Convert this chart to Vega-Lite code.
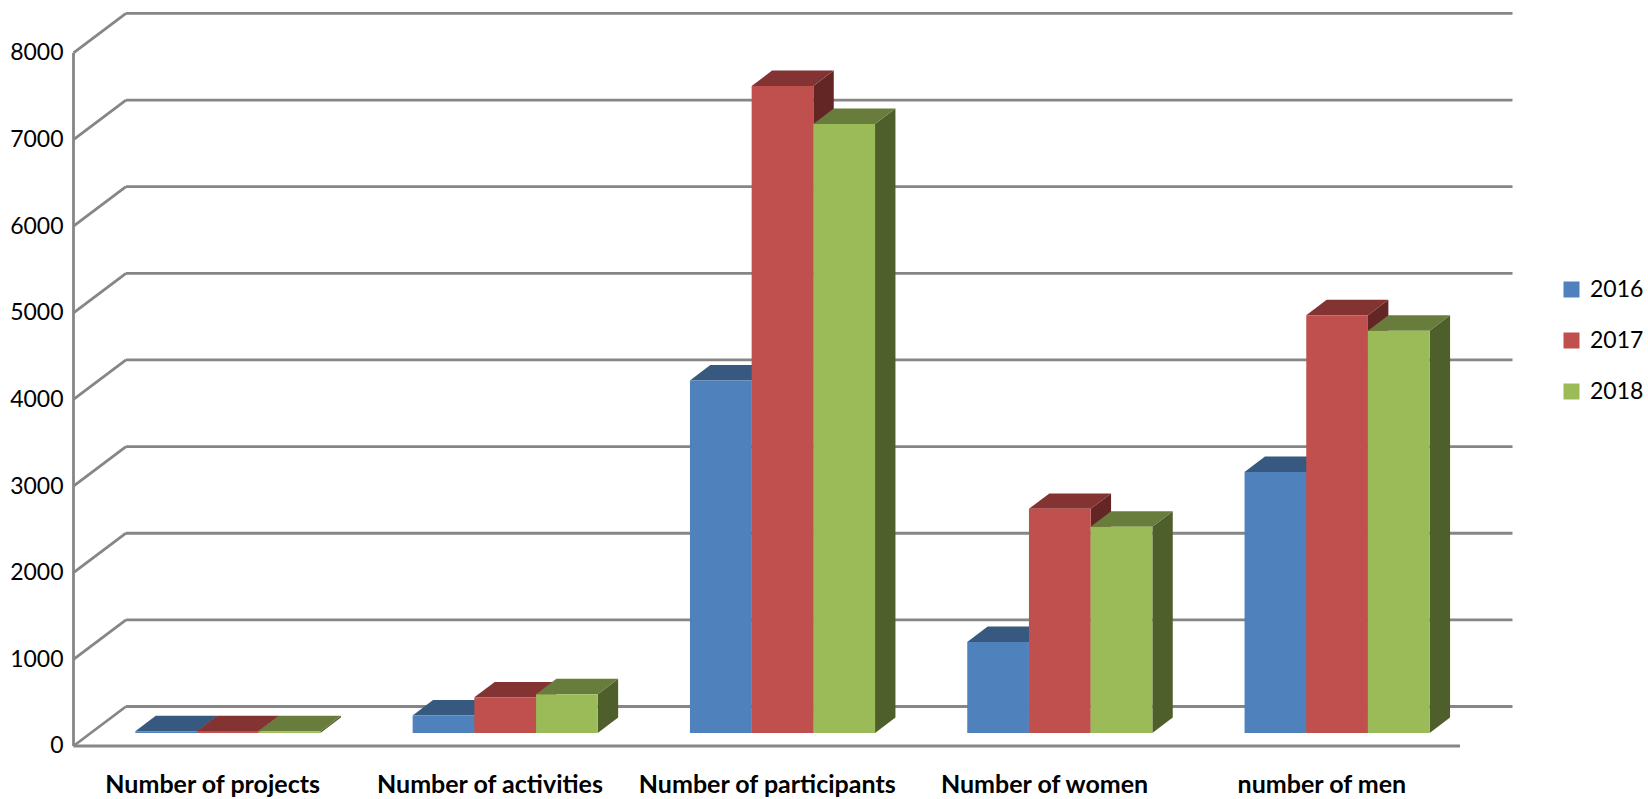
{
"$schema":"https://vega.github.io/schema/vega-lite/v6.json",
"width":1648,"height":799,"padding":0,"autosize":{"type":"none"},
"background":"white",
"config":{"view":{"stroke":null},"font":"Lato"},
"resolve":{"axis":{"x":"independent","y":"independent"}},
"datasets":{
"grid":[{"level":0},{"level":1000},{"level":2000},{"level":3000},{"level":4000},{"level":5000},{"level":6000},{"level":7000},{"level":8000}],
"bars":[
{"category":"Number of projects","year":"2016","value":20},
{"category":"Number of projects","year":"2017","value":22},
{"category":"Number of projects","year":"2018","value":20},
{"category":"Number of activities","year":"2016","value":203},
{"category":"Number of activities","year":"2017","value":412},
{"category":"Number of activities","year":"2018","value":447},
{"category":"Number of participants","year":"2016","value":4069},
{"category":"Number of participants","year":"2017","value":7469},
{"category":"Number of participants","year":"2018","value":7030},
{"category":"Number of women","year":"2016","value":1050},
{"category":"Number of women","year":"2017","value":2588},
{"category":"Number of women","year":"2018","value":2382},
{"category":"number of men","year":"2016","value":3013},
{"category":"number of men","year":"2017","value":4822},
{"category":"number of men","year":"2018","value":4644}
]},
"layer":[
{"data":{"name":"grid"},
 "transform":[{"calculate":"datum.level+456","as":"back"}],
 "resolve":{"axis":{"x":"independent","y":"independent"}},
 "layer":[
  {"mark":{"type":"rule","color":"#868686","strokeWidth":2.8},
   "encoding":{
    "x":{"datum":0.1893,"type":"quantitative","scale":{"domain":[-0.26506,5.6779],"nice":false,"zero":false},
      "axis":{"values":[0.5,1.5,2.5,3.5,4.5],"title":null,"grid":false,"ticks":false,"domain":false,"labelOverlap":false,"labelFlush":false,"labelLimit":400,"labelFont":"Lato","labelFontWeight":"bold","labelFontSize":25,"labelColor":"#000000","labelPadding":0,"offset":-27,
      "labelExpr":"['Number of projects','Number of activities','Number of participants','Number of women','number of men'][floor(datum.value)]"}},
    "x2":{"datum":5.1893},
    "y":{"field":"back","type":"quantitative","scale":{"domain":[-611.8,8611.3],"nice":false,"zero":false},
      "axis":{"values":[0,1000,2000,3000,4000,5000,6000,7000,8000],"format":"d","title":null,"grid":false,"ticks":false,"domain":false,"labelFont":"Lato","labelFontSize":23,"labelColor":"#000000","labelPadding":0,"offset":-63}}
   }},
  {"mark":{"type":"rule","color":"#868686","strokeWidth":2.8},
   "encoding":{
    "x":{"datum":0,"type":"quantitative","scale":{"domain":[-0.26506,5.6779],"nice":false,"zero":false},"axis":null},
    "x2":{"datum":0.1893},
    "y":{"field":"level","type":"quantitative","scale":{"domain":[-611.8,8611.3],"nice":false,"zero":false},"axis":null},
    "y2":{"field":"back"}
   }},
  {"transform":[{"filter":"datum.level==0"}],
   "mark":{"type":"rule","color":"#868686","strokeWidth":2.8},
   "encoding":{
    "x":{"datum":0,"type":"quantitative","scale":{"domain":[-0.26506,5.6779],"nice":false,"zero":false},"axis":null},
    "y":{"field":"level","type":"quantitative","scale":{"domain":[-611.8,8611.3],"nice":false,"zero":false},"axis":null},
    "y2":{"datum":8000}
   }},
  {"transform":[{"filter":"datum.level==0"}],
   "mark":{"type":"rule","color":"#868686","strokeWidth":2.8},
   "encoding":{
    "x":{"datum":0,"type":"quantitative","scale":{"domain":[-0.26506,5.6779],"nice":false,"zero":false},"axis":null},
    "x2":{"datum":5},
    "y":{"field":"level","type":"quantitative","scale":{"domain":[-611.8,8611.3],"nice":false,"zero":false},"axis":null}
   }}
 ]},
{"data":{"name":"bars"},
 "transform":[
  {"calculate":"indexof(['Number of projects','Number of activities','Number of participants','Number of women','number of men'],datum.category)","as":"ci"},
  {"calculate":"indexof(['2016','2017','2018'],datum.year)","as":"yi"},
  {"calculate":"datum.ci+0.223+datum.yi*0.2225","as":"x0"},
  {"calculate":"datum.x0+0.2225","as":"x1"},
  {"calculate":"datum.value+150","as":"top"},
  {"calculate":"150","as":"base"},
  {"calculate":"{'2016':'#37587F','2017':'#843333','2018':'#687C3B'}[datum.year]","as":"topColor"},
  {"calculate":"{'2016':'#2B4565','2017':'#632625','2018':'#4F5F2C'}[datum.year]","as":"sideColor"},
  {"calculate":"datum.category+datum.year","as":"key"}
 ],
 "resolve":{"axis":{"x":"independent","y":"independent"}},
 "layer":[
  {"transform":[{"calculate":"[0,1]","as":"t"},{"flatten":["t"]},
    {"calculate":"datum.x1+datum.t*0.0736","as":"sx"},
    {"calculate":"datum.top+datum.t*178","as":"sy"},
    {"calculate":"datum.base+datum.t*178","as":"sy2"}],
   "mark":{"type":"area","orient":"vertical"},
   "encoding":{
    "x":{"field":"sx","type":"quantitative","scale":{"domain":[-0.26506,5.6779],"nice":false,"zero":false},"axis":null},
    "y":{"field":"sy","type":"quantitative","stack":null,"scale":{"domain":[-611.8,8611.3],"nice":false,"zero":false},"axis":null},
    "y2":{"field":"sy2"},
    "detail":{"field":"key"},
    "color":{"field":"sideColor","type":"nominal","scale":null}
   }},
  {"transform":[{"calculate":"[0,1]","as":"t"},{"flatten":["t"]},
    {"calculate":"datum.x0+datum.t*0.0736","as":"tx"},
    {"calculate":"datum.x1+datum.t*0.0736","as":"tx2"},
    {"calculate":"datum.top+datum.t*178","as":"ty"}],
   "mark":{"type":"area","orient":"horizontal"},
   "encoding":{
    "y":{"field":"ty","type":"quantitative","scale":{"domain":[-611.8,8611.3],"nice":false,"zero":false},"axis":null},
    "x":{"field":"tx","type":"quantitative","stack":null,"scale":{"domain":[-0.26506,5.6779],"nice":false,"zero":false},"axis":null},
    "x2":{"field":"tx2"},
    "detail":{"field":"key"},
    "color":{"field":"topColor","type":"nominal","scale":null}
   }},
  {"mark":{"type":"rect"},
   "encoding":{
    "x":{"field":"x0","type":"quantitative","scale":{"domain":[-0.26506,5.6779],"nice":false,"zero":false},"axis":null},
    "x2":{"field":"x1"},
    "y":{"field":"top","type":"quantitative","scale":{"domain":[-611.8,8611.3],"nice":false,"zero":false},"axis":null},
    "y2":{"field":"base"},
    "color":{"field":"year","type":"nominal","scale":{"domain":["2016","2017","2018"],"range":["#4F81BD","#C0504D","#9BBB59"]},
     "legend":{"orient":"none","legendX":1560,"legendY":278,"title":null,"padding":0,"symbolType":"square","symbolSize":256,"symbolOpacity":1,"symbolStrokeWidth":0,"labelFont":"Lato","labelFontSize":23,"labelColor":"#000000","labelOffset":7,"rowPadding":27}}
   }}
 ]}
]
}
